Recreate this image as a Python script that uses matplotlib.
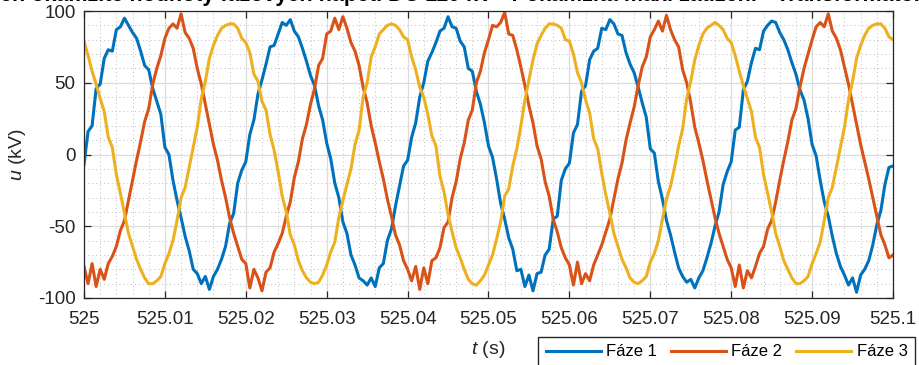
import numpy as np
import matplotlib
matplotlib.use("Agg")
import matplotlib.pyplot as plt
from matplotlib.ticker import MultipleLocator

plt.rcParams["font.family"] = ["Liberation Sans", "DejaVu Sans"]
plt.rcParams["mathtext.fontset"] = "custom"
plt.rcParams["mathtext.it"] = "Liberation Sans:italic"
plt.rcParams["mathtext.rm"] = "Liberation Sans"
plt.rcParams["axes.unicode_minus"] = False

# --- data (kV), odečteno z grafu po 0.5 ms od t = 525 s ---
t_start = 525.0
dt = 0.0005

faze1 = [
    -7, 16, 20, 46, 49, 67, 73, 72, 87, 89, 95, 90, 85, 81, 72, 62, 59, 46, 37, 28,
    5, 0, -18, -32, -44, -57, -67, -80, -83, -90, -85, -94, -85, -80, -73, -64, -48, -41, -20, -11,
    -5, 14, 24, 42, 52, 63, 75, 76, 84, 92, 90, 94, 86, 82, 74, 65, 55, 48, 34, 24,
    8, -3, -20, -30, -47, -55, -70, -77, -86, -88, -91, -86, -92, -79, -76, -60, -52, -36, -22, -8,
    -4, 12, 22, 40, 50, 65, 71, 78, 86, 88, 96, 89, 88, 79, 75, 60, 58, 44, 35, 22,
    6, -2, -17, -34, -45, -58, -66, -81, -80, -92, -84, -95, -83, -82, -70, -66, -45, -43, -18, -10,
    -6, 15, 21, 44, 48, 66, 72, 74, 88, 87, 94, 91, 84, 83, 71, 63, 57, 47, 36, 26,
    4, 1, -19, -31, -46, -56, -68, -79, -85, -89, -87, -93, -86, -81, -72, -62, -50, -40, -21, -12,
    -5, 17, 19, 45, 51, 64, 74, 73, 86, 90, 93, 92, 85, 80, 73, 64, 56, 45, 38, 25,
    7, -1, -18, -33, -43, -57, -69, -78, -84, -91, -86, -96, -84, -80, -74, -63, -49, -39, -21, -9,
    -8,
]

faze2 = [
    -78, -90, -76, -92, -80, -87, -76, -71, -64, -53, -46, -32, -18, -4, 9, 23, 32, 49, 60, 69,
    81, 88, 91, 88, 98, 85, 81, 74, 60, 49, 35, 21, 7, -4, -18, -30, -44, -55, -64, -73,
    -76, -93, -80, -86, -95, -82, -79, -68, -62, -55, -43, -33, -16, -5, 11, 21, 35, 46, 62, 67,
    84, 86, 95, 87, 96, 88, 78, 72, 62, 47, 36, 20, 8, -5, -17, -31, -43, -56, -63, -74,
    -80, -88, -78, -94, -79, -90, -74, -72, -65, -51, -47, -30, -19, -3, 8, 24, 31, 50, 58, 71,
    80, 90, 89, 92, 99, 84, 83, 73, 61, 48, 34, 22, 6, -3, -19, -29, -45, -54, -65, -72,
    -77, -91, -75, -90, -83, -88, -77, -70, -63, -54, -45, -31, -17, -6, 10, 22, 33, 48, 61, 68,
    82, 87, 93, 86, 97, 87, 80, 75, 59, 50, 36, 19, 8, -4, -18, -31, -44, -55, -64, -73,
    -79, -92, -77, -93, -81, -86, -78, -69, -64, -52, -46, -33, -18, -4, 9, 24, 32, 47, 60, 70,
    80, 89, 92, 89, 98, 86, 81, 73, 61, 49, 35, 21, 7, -5, -17, -30, -43, -56, -63, -72,
    -70,
]

faze3 = [
    79, 69, 58, 49, 39, 30, 12, 5, -14, -27, -41, -55, -64, -73, -80, -86, -90, -90, -88, -85,
    -76, -69, -60, -46, -30, -23, -9, 5, 19, 39, 51, 67, 76, 83, 88, 90, 91, 91, 88, 81,
    78, 71, 56, 51, 37, 31, 14, 3, -12, -29, -40, -56, -63, -74, -81, -86, -89, -90, -89, -84,
    -77, -68, -61, -44, -32, -21, -10, 7, 17, 40, 50, 68, 75, 84, 87, 90, 91, 90, 87, 82,
    80, 68, 59, 47, 40, 28, 13, 6, -15, -26, -42, -54, -65, -72, -80, -87, -90, -91, -88, -84,
    -77, -70, -59, -47, -29, -24, -8, 4, 20, 38, 52, 66, 77, 83, 88, 91, 91, 90, 88, 80,
    79, 70, 57, 50, 38, 29, 11, 4, -13, -28, -41, -55, -64, -73, -79, -86, -89, -90, -88, -85,
    -75, -69, -60, -45, -31, -22, -9, 6, 18, 39, 51, 66, 76, 84, 88, 90, 92, 90, 87, 81,
    78, 69, 58, 48, 39, 30, 12, 5, -14, -27, -40, -55, -64, -74, -80, -86, -90, -90, -88, -85,
    -76, -69, -61, -46, -30, -23, -9, 5, 19, 38, 51, 67, 76, 83, 88, 90, 91, 91, 88, 82,
    80,
]

labels = ["Fáze 1", "Fáze 2", "Fáze 3"]
colors = ["#0072BD", "#D95319", "#EDB120"]
x_ticks = [525.0, 525.01, 525.02, 525.03, 525.04, 525.05, 525.06, 525.07, 525.08, 525.09, 525.1]
x_tick_labels = ["525", "525.01", "525.02", "525.03", "525.04", "525.05",
                 "525.06", "525.07", "525.08", "525.09", "525.1"]
y_ticks = [-100, -50, 0, 50, 100]
title = ("Průběh okamžité hodnoty fázových napětí DC 110 kV - "
         "Pokamžitá maxi zatížení - Transformátor")

t = t_start + dt * np.arange(len(faze1))

fig = plt.figure(figsize=(9.2, 3.65), dpi=100)
ax = fig.add_axes([84 / 920, 1 - 298 / 365, (893 - 84) / 920, (298 - 11) / 365])

for y, lab, c in zip([faze1, faze2, faze3], labels, colors):
    ax.plot(t, y, color=c, lw=2.2, label=lab, solid_joinstyle="round")

ax.set_xlim(525.0, 525.1)
ax.set_ylim(-100, 100)
ax.set_xticks(x_ticks)
ax.set_xticklabels(x_tick_labels)
ax.set_yticks(y_ticks)
ax.xaxis.set_minor_locator(MultipleLocator(0.002))
ax.yaxis.set_minor_locator(MultipleLocator(10))

# mřížka ve stylu MATLABu
ax.grid(True, which="major", color="#dcdcdc", lw=0.9, ls="-")
ax.grid(True, which="minor", color="#bdbdbd", lw=0.7, ls=(0, (1, 3)))
ax.set_axisbelow(True)

ax.tick_params(which="major", direction="in", length=5, width=0.9,
               top=True, right=True, labelsize=13.5, colors="#262626")
ax.tick_params(axis="x", which="major", pad=9)
ax.tick_params(axis="y", which="major", pad=6)
ax.tick_params(which="minor", length=0, top=True, right=True)
for sp in ax.spines.values():
    sp.set_color("#262626")
    sp.set_linewidth(0.9)

ax.set_xlabel("$t$ (s)", fontsize=14, color="#262626", labelpad=8)
ax.set_ylabel("$u$ (kV)", fontsize=14, color="#262626", labelpad=7)

# titulek je v originále oříznutý horním okrajem
fig.text(0.474, 1 - 1 / 365, title, ha="center", va="baseline",
         fontsize=15.5, fontweight="bold", color="#000000")

ax.legend(loc="upper right", bbox_to_anchor=(915 / 920, 1 - 337 / 365),
          bbox_transform=fig.transFigure, ncol=3, frameon=True, fancybox=False,
          edgecolor="#262626", framealpha=1, fontsize=12, handlelength=3.3,
          handletextpad=0.35, columnspacing=0.8, borderpad=0.45, borderaxespad=0)

fig.savefig("out.png", dpi=100)
